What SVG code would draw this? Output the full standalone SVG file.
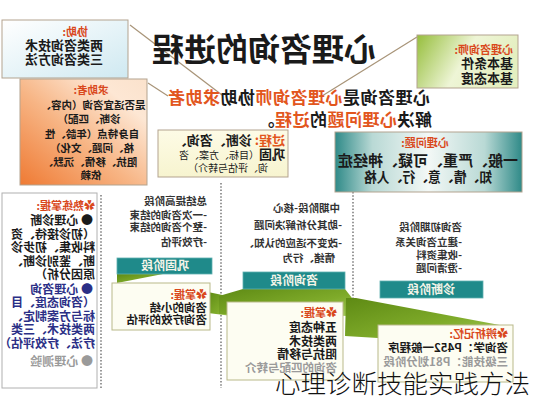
<svg xmlns="http://www.w3.org/2000/svg" width="533" height="400" viewBox="0 0 533 400">
<style>
text{font-family:"Noto Sans CJK SC","DejaVu Sans",sans-serif;font-weight:bold;fill:#1a1a1a}
.c{text-anchor:middle}
.red{fill:#d9481c}
.or{fill:#e2561d}
.blue{fill:#2b2f86}
.grey{fill:#9a9a9a}
.dk{fill:#333}
.box{stroke:#b3a38f;stroke-width:1}
.bar{fill:#1f8a8a;stroke:#5fb0b0;stroke-width:0.8}
.barT{fill:#f4f4e8;font-size:12px;text-anchor:middle}
.lbox{fill:#fdfdf2;stroke:#b9b98a;stroke-width:1}
.dot{stroke:#555;stroke-width:1.2;stroke-dasharray:1.5 1.8;fill:none}
.ln{stroke:#a89478;stroke-width:1.2;fill:none}
.gr{fill:url(#gGreen)}
.s105{font-size:10.5px}
</style>
<defs>
<linearGradient id="gBlue" x1="0" y1="0" x2="1" y2="1"><stop offset="0" stop-color="#ffffff"/><stop offset="1" stop-color="#cfe9f1"/></linearGradient>
<linearGradient id="gOrange" x1="0" y1="1" x2="1" y2="0"><stop offset="0" stop-color="#ef7a33"/><stop offset="0.45" stop-color="#f7b585"/><stop offset="0.8" stop-color="#fde7d4"/><stop offset="1" stop-color="#fbe2cc"/></linearGradient>
<linearGradient id="gLime" x1="0" y1="0" x2="1" y2="0.3"><stop offset="0" stop-color="#96be3c"/><stop offset="0.55" stop-color="#eef5d6"/><stop offset="1" stop-color="#e4efc0"/></linearGradient>
<linearGradient id="gTeal" x1="0" y1="0" x2="1" y2="0"><stop offset="0" stop-color="#2f8a88"/><stop offset="0.2" stop-color="#b9d9d5"/><stop offset="0.5" stop-color="#f3f8f6"/><stop offset="0.8" stop-color="#b9d9d5"/><stop offset="1" stop-color="#2f8a88"/></linearGradient>
<linearGradient id="gYel" x1="0" y1="0" x2="0" y2="1"><stop offset="0" stop-color="#fdfbe6"/><stop offset="1" stop-color="#f7f4cf"/></linearGradient>
<linearGradient id="gGreen" x1="0" y1="0" x2="1" y2="1"><stop offset="0" stop-color="#5e8a14"/><stop offset="0.6" stop-color="#7fab2a"/><stop offset="1" stop-color="#a3c85a"/></linearGradient>
</defs>
<rect width="533" height="400" fill="#ffffff"/>

<g id="connectors">
<line class="ln" x1="130" y1="25" x2="222" y2="95"/>
<line class="ln" x1="417" y1="37" x2="322" y2="96"/>
<line class="ln" x1="148" y1="83" x2="168" y2="96"/>
<line class="dot" x1="101" y1="195" x2="101" y2="388"/>
<line class="dot" x1="221" y1="183" x2="221" y2="388"/>
<line class="dot" x1="353" y1="192" x2="353" y2="300"/>
<polygon class="gr" points="117,274 163,274 117,283"/>
<polygon class="gr" points="208,292 232,297 232,316 208,313"/>
<polygon class="gr" points="219,296 243,289 345,289 352,298 352,316 219,314"/>
<polygon class="gr" points="346,298 356,298 505,326 378,326 378,338 345,336"/>
</g>

<g id="title">
<text transform="translate(376,61) scale(-1,1)" style="font-size:32px">心理咨询的进程</text>
</g>

<g id="box-assist">
<rect class="box" x="2" y="20" width="126" height="58" fill="url(#gBlue)"/>
<text class="red" transform="translate(88,36) scale(-1,1)" style="font-size:11px">协助:</text>
<text transform="translate(103,50) scale(-1,1)" style="font-size:13px">两类咨询技术</text>
<text transform="translate(103,64) scale(-1,1)" style="font-size:13px">三类咨询方法</text>
</g>

<g id="box-counselor">
<rect class="box" x="417" y="35" width="101" height="53" fill="url(#gLime)"/>
<text class="red" transform="translate(513,54) scale(-1,1)" style="font-size:11px">心理咨询师:</text>
<text transform="translate(513,68) scale(-1,1)" style="font-size:13px">基本条件</text>
<text transform="translate(513,83) scale(-1,1)" style="font-size:13px">基本态度</text>
</g>

<g id="box-client">
<rect class="box" x="20" y="79" width="127" height="106" fill="url(#gOrange)"/>
<g style="font-size:10.5px">
<text class="c red" transform="translate(91,94) scale(-1,1)">求助者:</text>
<text class="c" transform="translate(93,109) scale(-1,1)">是否适宜咨询（内容、</text>
<text class="c" transform="translate(89,123) scale(-1,1)">诊断、匹配）</text>
<text class="c" transform="translate(92,138) scale(-1,1)">自身特点（年龄、性</text>
<text class="c" transform="translate(92,152) scale(-1,1)">格、问题、文化）</text>
<text class="c" transform="translate(90,166) scale(-1,1)">阻抗、移情、沉默、</text>
<text class="c" transform="translate(91,179) scale(-1,1)">依赖</text>
</g>
</g>

<g id="statement">
<text transform="translate(430,104) scale(-1,1)" style="font-size:17px;letter-spacing:0.5px"><tspan>心理咨询是</tspan><tspan class="or">心理咨询师</tspan><tspan>协助</tspan><tspan class="or">求助者</tspan></text>
<text transform="translate(432,126) scale(-1,1)" style="font-size:17px;letter-spacing:0.5px"><tspan>解决</tspan><tspan class="or">心理问题</tspan><tspan>的</tspan><tspan class="or">过程</tspan><tspan>。</tspan></text>
</g>

<g id="box-process">
<rect class="box" x="158" y="130" width="130" height="47" fill="url(#gYel)"/>
<text transform="translate(285,145) scale(-1,1)" style="font-size:13px"><tspan class="or">过程:</tspan><tspan> 诊断、咨询、</tspan></text>
<text transform="translate(285,159) scale(-1,1)" style="font-size:13px"><tspan>巩固</tspan><tspan style="font-size:10px;font-weight:normal">（目标、方案、咨</tspan></text>
<text transform="translate(268,172) scale(-1,1)" style="font-size:10px;font-weight:normal">询、评估与转介）</text>
</g>

<g id="box-problem">
<rect class="box" x="335" y="132" width="187" height="60" fill="url(#gTeal)"/>
<text class="c red" transform="translate(425,147) scale(-1,1)" style="font-size:11px">心理问题:</text>
<text class="c" transform="translate(428,166) scale(-1,1)" style="font-size:15px">一般、严重、可疑、神经症</text>
<text class="c" transform="translate(428,182) scale(-1,1)" style="font-size:14px" textLength="128" lengthAdjust="spacingAndGlyphs">知、情、意、行、人格</text>
</g>

<g id="col-mastery">
<rect x="2" y="193" width="95" height="195" fill="#ffffff" stroke="#b0b0b0" stroke-width="1"/>
<g style="font-size:12px">
<text class="red" transform="translate(95,210) scale(-1,1)" style="font-size:11px">✿熟练掌握:</text>
<text transform="translate(93,225) scale(-1,1)">● 心理诊断</text>
<text transform="translate(95,239) scale(-1,1)">（初诊接待、资</text>
<text transform="translate(95,252) scale(-1,1)">料收集、初步诊</text>
<text transform="translate(95,266) scale(-1,1)">断、鉴别诊断、</text>
<text transform="translate(95,279) scale(-1,1)">原因分析）</text>
<text class="blue" transform="translate(93,294) scale(-1,1)">● 心理咨询</text>
<text class="blue" transform="translate(95,307) scale(-1,1)">（咨询态度、目</text>
<text class="blue" transform="translate(95,321) scale(-1,1)">标与方案制定、</text>
<text class="blue" transform="translate(95,334) scale(-1,1)">两类技术、三类</text>
<text class="blue" transform="translate(95,348) scale(-1,1)">疗法、疗效评估）</text>
<text class="grey" transform="translate(93,366) scale(-1,1)">● 心理测验</text>
</g>
</g>

<g id="stage-consolidate">
<text class="dk s105" transform="translate(207,205) scale(-1,1)">总结提高阶段</text>
<text class="dk s105" transform="translate(207,219) scale(-1,1)">-一次咨询的结束</text>
<text class="dk s105" transform="translate(207,231) scale(-1,1)">-整个咨询的结束</text>
<text class="dk s105" transform="translate(207,246) scale(-1,1)">-疗效评估</text>
<rect class="bar" x="117" y="258" width="95" height="16"/>
<text class="barT" transform="translate(165,270) scale(-1,1)">巩固阶段</text>
<rect class="lbox" x="112" y="283" width="98" height="47"/>
<text class="red" transform="translate(207,299) scale(-1,1)" style="font-size:11px">✿掌握:</text>
<text transform="translate(207,312) scale(-1,1)" style="font-size:11.5px">咨询的小结</text>
<text transform="translate(207,324) scale(-1,1)" style="font-size:11.5px">咨询疗效的评估</text>
</g>

<g id="stage-counsel">
<text class="dk s105" transform="translate(340,212) scale(-1,1)">中期阶段-核心</text>
<text class="dk s105" transform="translate(342,229) scale(-1,1)">-助其分析解决问题</text>
<text class="dk s105" transform="translate(342,247) scale(-1,1)">-改变不适应的认知、</text>
<text class="dk s105" transform="translate(335,262) scale(-1,1)">情绪、行为</text>
<rect class="bar" x="243" y="272" width="102" height="17"/>
<text class="barT" transform="translate(294,285) scale(-1,1)">咨询阶段</text>
<rect class="lbox" x="227" y="302" width="116" height="78"/>
<text class="red" transform="translate(337,317) scale(-1,1)" style="font-size:11px">✿掌握:</text>
<text transform="translate(337,332) scale(-1,1)" style="font-size:12px">五种态度</text>
<text transform="translate(337,346) scale(-1,1)" style="font-size:12px">两类技术</text>
<text transform="translate(337,359) scale(-1,1)" style="font-size:12px">阻抗与移情</text>
<text class="grey" transform="translate(337,372) scale(-1,1)" style="font-size:11.5px">咨询的匹配与转介</text>
</g>

<g id="stage-diagnose">
<text class="dk s105" transform="translate(462,231) scale(-1,1)">咨询初期阶段</text>
<text class="dk s105" transform="translate(462,246) scale(-1,1)">-建立咨询关系</text>
<text class="dk s105" transform="translate(462,259) scale(-1,1)">-收集资料</text>
<text class="dk s105" transform="translate(462,272) scale(-1,1)">-澄清问题</text>
<rect class="bar" x="380" y="281" width="103" height="17"/>
<text class="barT" transform="translate(431,294) scale(-1,1)">诊断阶段</text>
<rect class="lbox" x="378" y="325" width="135" height="57"/>
<text class="red" transform="translate(508,338) scale(-1,1)" style="font-size:11px">✿辨析记忆:</text>
<text transform="translate(508,352) scale(-1,1)" style="font-size:11.5px">咨询学：P452一般程序</text>
<text class="grey" transform="translate(508,366) scale(-1,1)" style="font-size:11.5px">三级技能：P81划分阶段</text>
</g>

<g id="caption">
<text x="275" y="393" style="font-size:25.5px;font-weight:300;fill:#111">心理诊断技能实践方法</text>
</g>
</svg>
